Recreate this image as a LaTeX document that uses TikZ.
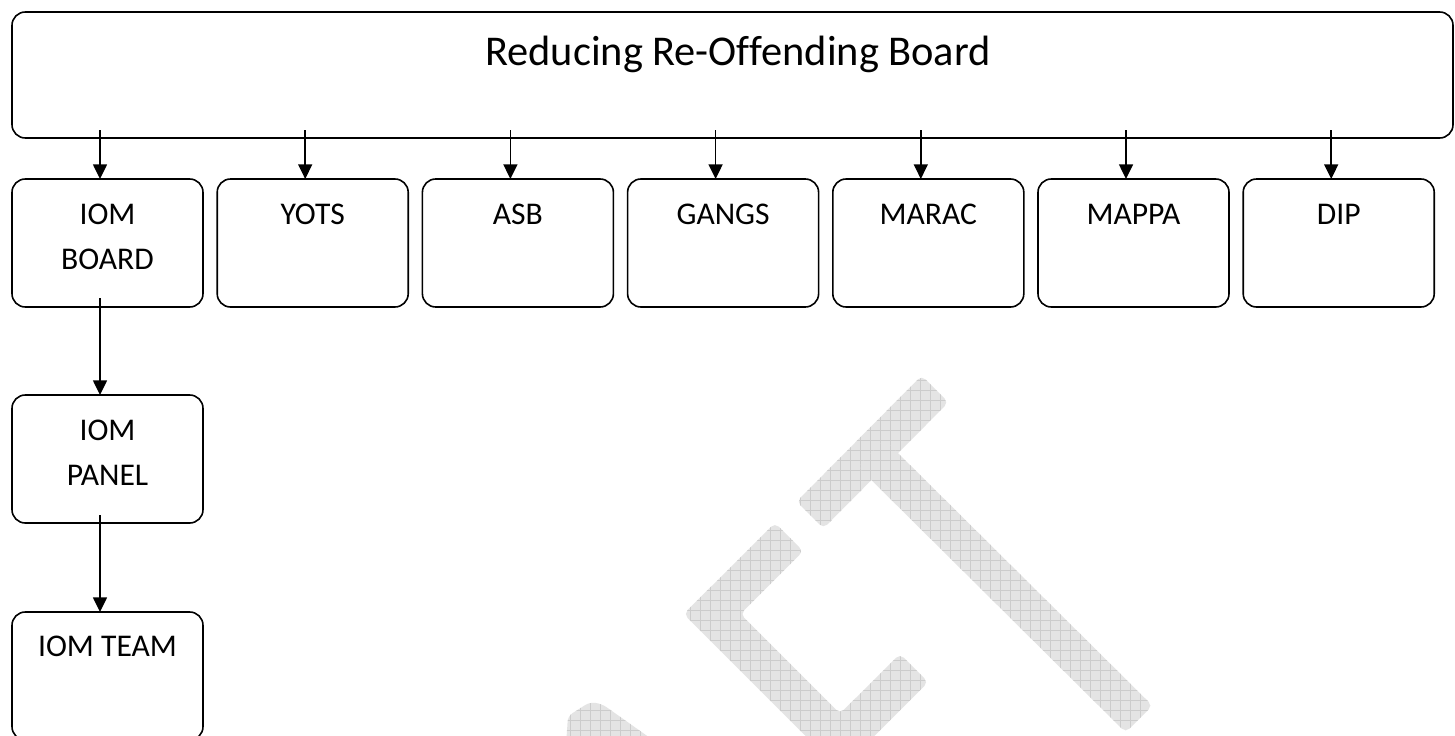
\documentclass[tikz,border=0pt]{standalone}
\usepackage{fontspec}
\setmainfont{Carlito}[Ligatures=CommonOff]
\usetikzlibrary{arrows.meta,calc}
\definecolor{wmfill}{HTML}{E4E4E4}
\definecolor{wmgrid}{HTML}{CCCCCC}
\tikzset{
  box/.style={draw=black, line width=1.2pt, rounded corners=10pt, minimum width=143.25pt, minimum height=96pt, inner sep=0pt, outer sep=0pt},
  topbox/.style={box, minimum width=1080.75pt, minimum height=94.5pt},
  lbl/.style={anchor=north, inner sep=0pt, align=center, font=\fontsize{23.7}{33.75}\selectfont},
  ttl/.style={anchor=base, inner sep=0pt, font=\fontsize{31.8}{38}\selectfont},
  arr/.style={-{Triangle[width=10.5pt,length=11pt]}, line width=1.1pt},
  wmgridline/.style={draw=wmgrid, line width=0.5pt},
}
\begin{document}
\begin{tikzpicture}[x=0.75pt,y=-0.75pt]
\fill[white] (0,0) rectangle (1455,735);
\useasboundingbox (0,0) rectangle (1455,735);

% watermark pieces
\foreach \wmpath in {
  {(823.4,528.4) -- (796.6,501.6) -- (921.6,375.6) -- (948.4,402.4) -- cycle},
  {(884.4,439.6) -- (1152.4,705.6) -- (1125.6,732.4) -- (857.6,466.4) -- cycle},
  {(774.9,522.9) -- (683.7,614) -- (840,770.3) -- (928.2,682.2) -- (899.9,653.9) -- (840,713.7) -- (740.3,614) -- (803.2,551.2) -- cycle},
  {(566,745) -- (568,716) -- (590,702) -- (602,704) -- (660,745) -- cycle}}{
  \begin{scope}
    \clip[rounded corners=4pt] \wmpath;
    \fill[wmfill] (500,300) rectangle (1250,800);
    \draw[wmgridline, step=7.5pt] (500,300) grid (1250,800);
  \end{scope}
}

% top board
\node[topbox] (rrob) at (732.5,75) {};
\node[ttl] (title) at (738,65) {Reducing Re-Offending Board};

% second row
\foreach \i/\n/\t in {0/iom/{IOM\\BOARD},1/yots/YOTS,2/asb/ASB,3/gangs/GANGS,4/marac/MARAC,5/mappa/MAPPA,6/dip/DIP}{
  \node[box] (\n) at ({107.5+205.2*\i},243) {};
  \node[lbl] (\n-l) at ($(\n.north)+(0,25)$) {\t};
  \draw[arr] ($(\n.north)+(-7.5,-49)$) -- ($(\n.north)+(-7.5,0)$);
}

% IOM chain
\node[box] (panel) at (107.5,459) {};
\node[lbl] (panel-l) at ($(panel.north)+(0,25)$) {IOM\\PANEL};
\node[box] (team) at (107.5,676) {};
\node[lbl] (team-l) at ($(team.north)+(0,24)$) {IOM TEAM};

\draw[arr] ($(iom.south)+(-7.5,-9)$) -- ($(panel.north)+(-7.5,0)$);
\draw[arr] ($(panel.south)+(-7.5,-8)$) -- ($(team.north)+(-7.5,0)$);
\end{tikzpicture}
\end{document}
